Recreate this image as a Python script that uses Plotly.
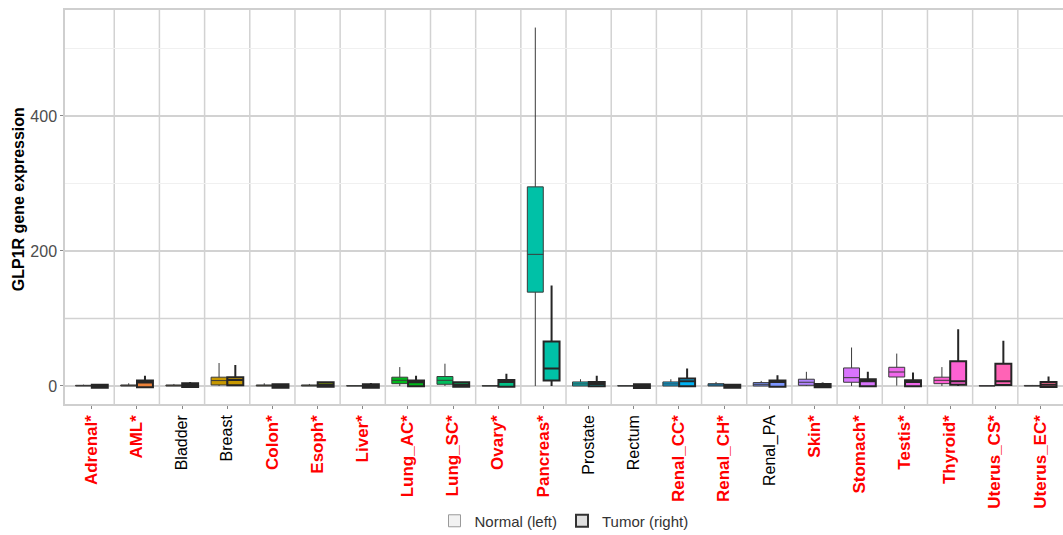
import math
import plotly.graph_objects as go

categories = ["Adrenal", "AML", "Bladder", "Breast", "Colon", "Esoph", "Liver",
              "Lung_AC", "Lung_SC", "Ovary", "Pancreas", "Prostate", "Rectum",
              "Renal_CC", "Renal_CH", "Renal_PA", "Skin", "Stomach", "Testis",
              "Thyroid", "Uterus_CS", "Uterus_EC"]
significant = [True, True, False, False, True, True, True, True, True, True, True,
               False, False, True, True, False, True, True, True, True, True, True]

# Normal (left) box statistics
normal_lf = [0, 0, 0, 0, 0, 0, 0, 0, 0, 0, 0, 0, 0, 0, 0, 0, 0, 0, 0.5, 0, 0, 0]
normal_q1 = [0, 0, 0, 1.5, 0, 0, 0, 3.4, 2.5, 0, 139, 0, 0, 0, 0, 0, 1, 5.5, 13.3, 3.4, 0, 0]
normal_med = [0.5, 0.5, 0.5, 8, 0.5, 0.5, 0.2, 8.4, 8.4, 0.2, 195, 3, 0.2, 3, 1.5, 2.5, 5.5, 12.3, 20.7, 8.4, 0.2, 0.3]
normal_q3 = [1, 1.5, 1.5, 13, 1.5, 1.5, 0.5, 13, 14, 0.5, 295, 6, 0.5, 6, 3.4, 5, 10, 26.7, 27.7, 13, 0.5, 0.8]
normal_uf = [2, 4, 3, 34, 4, 3, 1, 28, 33, 1, 531, 10, 1, 10, 6, 7.5, 21, 57, 48, 28, 1, 1.5]

# Tumor (right) box statistics
tumor_lf = [-2.5, -2, -1.5, 0, -2.5, -1, -2.5, -0.5, -1, -1, 0, -0.5, -3, -0.5, -2.5, -1, -2, -0.5, -0.5, 0, 0, -1.5]
tumor_q1 = [-2.5, -2, -1.5, 1, -2.5, -1, -2.5, -0.5, -1, -1, 8, -0.5, -3, -0.5, -2.5, -1, -2, -0.5, -0.5, 2, 1.5, -1.5]
tumor_med = [0, 5, 1, 9, 0, 2, 0, 5.5, 2, 6, 26, 3, 0, 7, 0, 6, 0.5, 7, 6, 7, 7, 2]
tumor_q3 = [2, 8, 4, 13, 2.5, 5.5, 2.5, 8, 5.5, 9, 66, 6, 2.5, 11, 2, 8, 3, 10, 8.4, 36.5, 33, 6]
tumor_uf = [3, 15, 6, 31, 3, 7, 4.5, 15, 7, 18, 149, 15, 2.5, 26, 2, 16, 5, 21, 20, 84, 67, 14]

y_tick_vals = [0, 200, 400]
legend_names = ["Normal (left)", "Tumor (right)"]
y_title = "GLP1R gene expression"


def hcl_to_hex(h, c=100.0, l=65.0):
    Xn, Yn, Zn = 95.047, 100.0, 108.883
    hr = math.radians(h)
    u = c * math.cos(hr)
    v = c * math.sin(hr)
    Y = Yn * ((l + 16) / 116) ** 3
    un = 4 * Xn / (Xn + 15 * Yn + 3 * Zn)
    vn = 9 * Yn / (Xn + 15 * Yn + 3 * Zn)
    up = u / (13 * l) + un
    vp = v / (13 * l) + vn
    X = Y * 9 * up / (4 * vp)
    Z = Y * (12 - 3 * up - 20 * vp) / (4 * vp)
    X, Y, Z = X / 100, Y / 100, Z / 100
    r = 3.2404542 * X - 1.5371385 * Y - 0.4985314 * Z
    g = -0.9692660 * X + 1.8760108 * Y + 0.0415560 * Z
    b = 0.0556434 * X - 0.2040259 * Y + 1.0572252 * Z

    def gam(t):
        t = 12.92 * t if t <= 0.0031308 else 1.055 * t ** (1 / 2.4) - 0.055
        return int(round(min(max(t, 0), 1) * 255))
    return "#%02X%02X%02X" % (gam(r), gam(g), gam(b))


n = len(categories)
colors = [hcl_to_hex(15 + 360 * i / n) for i in range(n)]

fig = go.Figure()
for i, cat in enumerate(categories):
    fig.add_trace(go.Box(
        x=[cat], q1=[normal_q1[i]], median=[normal_med[i]], q3=[normal_q3[i]],
        lowerfence=[normal_lf[i]], upperfence=[normal_uf[i]],
        fillcolor=colors[i], line=dict(color="#3A3A3A", width=1),
        boxpoints=False, whiskerwidth=0, offsetgroup="N", showlegend=False,
        hoverinfo="skip"))
    fig.add_trace(go.Box(
        x=[cat], q1=[tumor_q1[i]], median=[tumor_med[i]], q3=[tumor_q3[i]],
        lowerfence=[tumor_lf[i]], upperfence=[tumor_uf[i]],
        fillcolor=colors[i], line=dict(color="#262626", width=2),
        boxpoints=False, whiskerwidth=0, offsetgroup="T", showlegend=False,
        hoverinfo="skip"))

# legend-only dummy entries
fig.add_trace(go.Box(x=[categories[0]], y=[None], name=legend_names[0], offsetgroup="N",
                     fillcolor="#F2F2F2", line=dict(color="#9A9A9A", width=1),
                     boxpoints=False, showlegend=True))
fig.add_trace(go.Box(x=[categories[0]], y=[None], name=legend_names[1], offsetgroup="T",
                     fillcolor="#E0E0E0", line=dict(color="#333333", width=2),
                     boxpoints=False, showlegend=True))

ticktext = []
for cat, sig in zip(categories, significant):
    if sig:
        ticktext.append("<b><span style='color:#FF0000;font-size:17px'>%s*</span></b>" % cat)
    else:
        ticktext.append(cat)

shapes = []
for k in range(n - 1):
    shapes.append(dict(type="line", xref="x", yref="paper", x0=k + 0.5, x1=k + 0.5,
                       y0=0, y1=1, line=dict(color="#D2D2D2", width=1.5), layer="below"))
shapes.append(dict(type="line", xref="paper", yref="y", x0=0, x1=1, y0=100, y1=100,
                   line=dict(color="#D2D2D2", width=1.5), layer="below"))

fig.update_layout(
    width=1063, height=535,
    margin=dict(l=65, r=0, t=10, b=131, autoexpand=False),
    paper_bgcolor="white", plot_bgcolor="white",
    boxmode="group", boxgap=0.28, boxgroupgap=0.02,
    font=dict(family="Liberation Sans, Arial, sans-serif", color="#000000"),
    shapes=shapes,
    showlegend=True,
    legend=dict(orientation="h", x=0.5, xanchor="center", y=-0.297, yanchor="middle",
                font=dict(size=15, color="#333333"), bgcolor="rgba(0,0,0,0)",
                traceorder="normal"),
    annotations=[dict(text="<b>%s</b>" % y_title, xref="paper", yref="paper",
                      x=-0.047, y=0.52, xanchor="center", yanchor="middle",
                      textangle=-90, showarrow=False,
                      font=dict(size=16, color="#000000"))],
    xaxis=dict(
        type="category", categoryorder="array", categoryarray=categories,
        range=[-0.59, 21.5], tickmode="array", tickvals=categories, ticktext=ticktext,
        tickangle=-90, tickfont=dict(size=16, color="#000000"), automargin=False,
        showgrid=False, zeroline=False,
        showline=True, linecolor="#CFCFCF", linewidth=1.5, mirror=True,
        ticks="outside", ticklen=3, tickcolor="#888888", tickwidth=1,
    ),
    yaxis=dict(
        range=[-26.7, 557], tickmode="array", tickvals=y_tick_vals, automargin=False,
        tickfont=dict(size=16, color="#4D4D4D"),
        showgrid=True, gridcolor="#D2D2D2", gridwidth=1.5, zeroline=False,
        minor=dict(tickvals=[300, 500], showgrid=True, gridcolor="#F0F0F0", gridwidth=1),
        showline=True, linecolor="#CFCFCF", linewidth=1.5,
        ticks="outside", ticklen=3, tickcolor="#888888",
    ),
)

fig.write_html("out.html", config={"displayModeBar": False},
               post_script="document.body.style.margin='0';document.body.style.padding='0';")
